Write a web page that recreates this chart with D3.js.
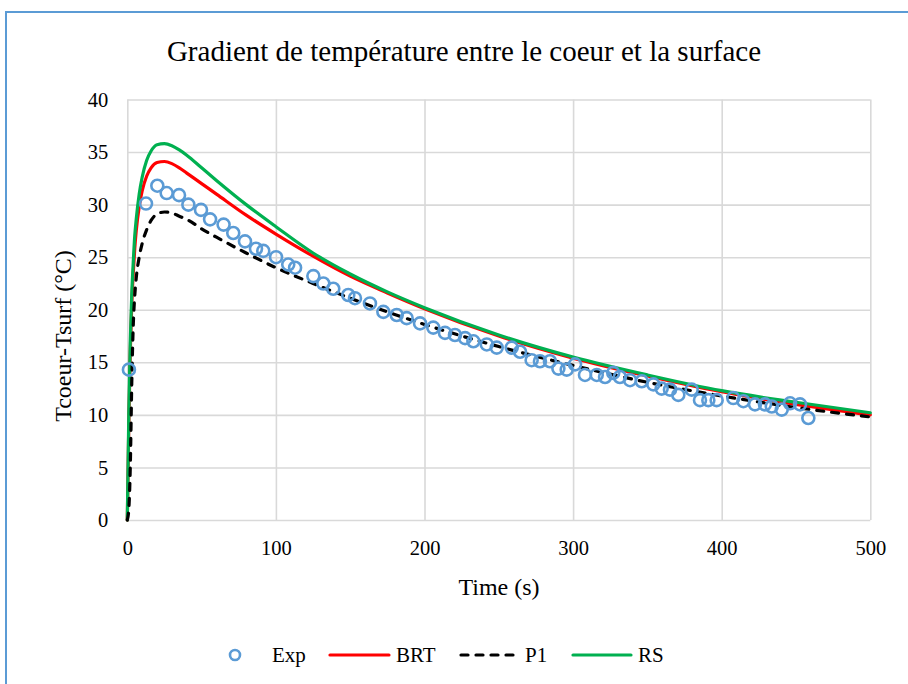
<!DOCTYPE html>
<html>
<head>
<meta charset="utf-8">
<script src="https://cdn.jsdelivr.net/npm/d3@7"></script>
<style>
  html, body { margin: 0; padding: 0; background: #fff; }
  svg text { font-family: "Liberation Serif", "Times New Roman", Times, serif; fill: #000; }
</style>
</head>
<body>
<svg id="chart" width="908" height="684"></svg>
<script>
// ---- Data ----
const chartTitle = "Gradient de température entre le coeur et la surface";
const xTicks = [0, 100, 200, 300, 400, 500];
const yTicks = [0, 5, 10, 15, 20, 25, 30, 35, 40];

const expT = [1.1, 12.6, 20.2, 26.5, 34.8, 41.1, 49.6, 55.7, 64.8, 71.3, 79.2, 86.6, 91.5, 100.1, 108.3, 112.9,
  125.2, 131.9, 138.6, 148.7, 153.2, 163.3, 172.3, 181.3, 188.0, 197.0, 205.9, 213.8, 220.5, 227.3, 232.9,
  241.9, 248.6, 258.7, 264.3, 272.1, 277.7, 284.4, 290.1, 295.7, 301.3, 308.0, 315.9, 321.5, 327.0, 331.5,
  338.3, 346.2, 354.0, 359.6, 365.2, 370.8, 379.8, 385.4, 391.0, 396.6, 407.8, 414.6, 422.4, 429.1, 433.7,
  440.4, 446.0, 452.7, 458.3];
const expV = [14.3, 30.1, 31.8, 31.1, 30.9, 30.0, 29.5, 28.6, 28.1, 27.3, 26.5, 25.8, 25.6, 25.0, 24.3, 24.0,
  23.2, 22.5, 22.0, 21.4, 21.1, 20.6, 19.8, 19.5, 19.2, 18.7, 18.3, 17.8, 17.6, 17.3, 17.0,
  16.7, 16.4, 16.4, 16.0, 15.2, 15.1, 15.1, 14.4, 14.3, 14.8, 13.8, 13.8, 13.6, 14.0, 13.6,
  13.3, 13.2, 12.9, 12.5, 12.4, 11.9, 12.4, 11.4, 11.4, 11.4, 11.6, 11.3, 11.0, 11.0, 10.8,
  10.5, 11.1, 11.0, 9.7];

const modelT = [0, 1, 2, 3, 4, 5, 6, 8, 10, 13, 16, 20, 25, 30, 35, 40, 50, 60, 80, 100, 125, 150, 175, 200, 250, 300, 350, 400, 450, 500];
const brtV = [0, 9, 16, 20.5, 23.5, 25.8, 27.5, 29.8, 31.3, 32.7, 33.5, 34.0, 34.1, 33.9, 33.5, 33.0, 32.0, 31.0, 29.0, 27.2, 25.1, 23.2, 21.6, 20.1, 17.5, 15.4, 13.7, 12.2, 11.0, 10.0];
const p1V  = [0, 1, 5, 13, 18.5, 21.3, 23, 25, 26.3, 27.6, 28.5, 29.1, 29.3, 29.2, 28.9, 28.6, 27.7, 26.9, 25.4, 24.0, 22.5, 21.1, 19.8, 18.6, 16.5, 14.7, 13.1, 11.8, 10.7, 9.8];
const rsV  = [0, 10, 17, 21.5, 24.5, 27, 28.6, 31, 32.6, 34.2, 35.1, 35.7, 35.8, 35.6, 35.2, 34.7, 33.5, 32.3, 30.0, 27.9, 25.4, 23.4, 21.7, 20.2, 17.6, 15.5, 13.8, 12.3, 11.2, 10.2];

const seriesNames = ["Exp", "BRT", "P1", "RS"];

// ---- Layout ----
const FONT = '"Liberation Serif", "Times New Roman", Times, serif';
const svg = d3.select("#chart");
const x = d3.scaleLinear().domain([0, 500]).range([127.3, 870.3]);
const y = d3.scaleLinear().domain([0, 40]).range([520, 99.5]);

// outer border
svg.append("path")
  .attr("d", "M6,690 L6,12 L915,12")
  .attr("fill", "none").attr("stroke", "#5b9bd5").attr("stroke-width", 2);

// title
svg.append("text")
  .attr("x", 464).attr("y", 61)
  .attr("text-anchor", "middle")
  .attr("font-family", FONT)
  .attr("font-size", 29)
  .text(chartTitle);

// gridlines + axes
const gridColor = "#d9d9d9";
const yAxis = svg.append("g")
  .attr("transform", `translate(${x(0)},0)`)
  .call(d3.axisLeft(y).tickValues(yTicks).tickFormat(d3.format("d"))
    .tickSize(-(x(500) - x(0))).tickPadding(19));
const xAxis = svg.append("g")
  .attr("transform", `translate(0,${y(0)})`)
  .call(d3.axisBottom(x).tickValues(xTicks).tickFormat(d3.format("d"))
    .tickSize(-(y(0) - y(40))).tickPadding(20));
[xAxis, yAxis].forEach(g => {
  g.attr("font-family", FONT).attr("font-size", 20.5);
  g.select(".domain").remove();
  g.selectAll(".tick line").attr("stroke", gridColor).attr("stroke-width", 1.6);
  g.selectAll(".tick text").attr("font-family", FONT).attr("font-size", 20.5).attr("fill", "#000");
});

// axis titles
svg.append("text")
  .attr("x", 499).attr("y", 595)
  .attr("text-anchor", "middle").attr("font-size", 24).attr("font-family", FONT)
  .text("Time (s)");
svg.append("text")
  .attr("transform", "translate(71,336) rotate(-90)")
  .attr("text-anchor", "middle").attr("font-size", 24).attr("font-family", FONT)
  .text("Tcoeur-Tsurf (°C)");

// lines
const line = d3.line().x(d => x(d[0])).y(d => y(d[1])).curve(d3.curveMonotoneX);
const mk = vals => modelT.map((t, i) => [t, vals[i]]);
const lineStyles = [
  { name: "BRT", data: mk(brtV), color: "#ff0000", dash: null },
  { name: "RS",  data: mk(rsV),  color: "#00b050", dash: null },
  { name: "P1",  data: mk(p1V),  color: "#000000", dash: "7,8" }
];
const plot = svg.append("g");
lineStyles.forEach(s => {
  plot.append("path")
    .datum(s.data)
    .attr("d", line)
    .attr("fill", "none")
    .attr("stroke", s.color)
    .attr("stroke-width", 3.2)
    .attr("stroke-linecap", "round")
    .attr("stroke-linejoin", "round")
    .attr("stroke-dasharray", s.dash);
});

// experimental points
plot.selectAll("circle.exp")
  .data(expT.map((t, i) => [t, expV[i]]))
  .join("circle")
  .attr("class", "exp")
  .attr("cx", d => x(d[0])).attr("cy", d => y(d[1]))
  .attr("r", 6)
  .attr("fill", "none")
  .attr("stroke", "#5b9bd5")
  .attr("stroke-width", 2.6);

// legend
const ly = 655;
const legend = svg.append("g").attr("font-family", FONT);
legend.append("circle").attr("cx", 235).attr("cy", ly).attr("r", 5)
  .attr("fill", "none").attr("stroke", "#5b9bd5").attr("stroke-width", 2.6);
legend.append("text").attr("x", 272).attr("y", ly + 7).attr("font-size", 21).attr("font-family", FONT).text(seriesNames[0]);
const legItems = [
  { x1: 330, x2: 389, color: "#ff0000", dash: null, tx: 396, label: seriesNames[1] },
  { x1: 461, x2: 518, color: "#000000", dash: "7,8", tx: 525, label: seriesNames[2] },
  { x1: 573, x2: 631, color: "#00b050", dash: null, tx: 638, label: seriesNames[3] }
];
legItems.forEach(it => {
  legend.append("line").attr("x1", it.x1).attr("x2", it.x2).attr("y1", ly).attr("y2", ly)
    .attr("stroke", it.color).attr("stroke-width", 3.2).attr("stroke-linecap", "round")
    .attr("stroke-dasharray", it.dash);
  legend.append("text").attr("x", it.tx).attr("y", ly + 7).attr("font-size", 21).attr("font-family", FONT).text(it.label);
});
</script>
</body>
</html>
